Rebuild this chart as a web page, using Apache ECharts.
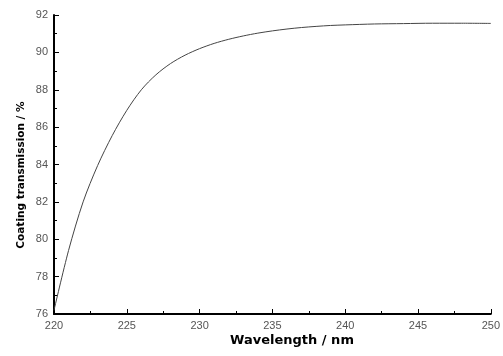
<!DOCTYPE html>
<html><head><meta charset="utf-8">
<script src="https://cdn.jsdelivr.net/npm/echarts@6/dist/echarts.min.js"></script>
<style>html,body{margin:0;padding:0;background:#fff}#c{width:503px;height:356px}</style>
</head><body><div id="c"></div>
<script>
const wavelength = [220, 221, 222, 223, 224, 225, 226, 227, 228, 229, 230, 231, 232, 233, 234, 235, 236, 237, 238, 239, 240, 242, 244, 246, 248, 250];
const transmission = [76.2, 79.4, 82.0, 83.95, 85.55, 86.9, 88.0, 88.8, 89.4, 89.85, 90.2, 90.48, 90.7, 90.88, 91.03, 91.15, 91.25, 91.33, 91.39, 91.44, 91.47, 91.52, 91.54, 91.56, 91.56, 91.55];
const xTitle = 'Wavelength / nm';
const yTitle = 'Coating transmission / %';

const chart = echarts.init(document.getElementById('c'));
const axisCommon = {
  axisLine: {onZero: false, lineStyle: {color: '#000', width: 2}},
  axisTick: {inside: true, length: 5, lineStyle: {color: '#000', width: 1}},
  minorTick: {show: true, splitNumber: 2, length: 3, lineStyle: {color: '#000'}},
  splitLine: {show: false},
  axisLabel: {color: '#555', fontFamily: 'Liberation Sans', fontSize: 11, margin: 6}
};
chart.setOption({
  animation: false,
  grid: {left: 54, right: 11, top: 15, bottom: 42},
  xAxis: Object.assign({type: 'value', min: 220, max: 250, interval: 5}, axisCommon),
  yAxis: Object.assign({type: 'value', min: 76, max: 92, interval: 2}, axisCommon),
  graphic: [
    {type: 'text', x: 292, y: 341, style: {text: xTitle, fontFamily: 'DejaVu Sans', fontWeight: 'bold', fontSize: 13, fill: '#000', align: 'center', verticalAlign: 'middle'}},
    {type: 'text', x: 21, y: 175, rotation: Math.PI / 2, style: {text: yTitle, fontFamily: 'DejaVu Sans', fontWeight: 'bold', fontSize: 10.5, fill: '#000', align: 'center', verticalAlign: 'middle'}}
  ],
  series: [{
    type: 'line', smooth: 0.3, showSymbol: false,
    lineStyle: {color: '#444', width: 1},
    data: wavelength.map((w, i) => [w, transmission[i]])
  }]
});
</script></body></html>
